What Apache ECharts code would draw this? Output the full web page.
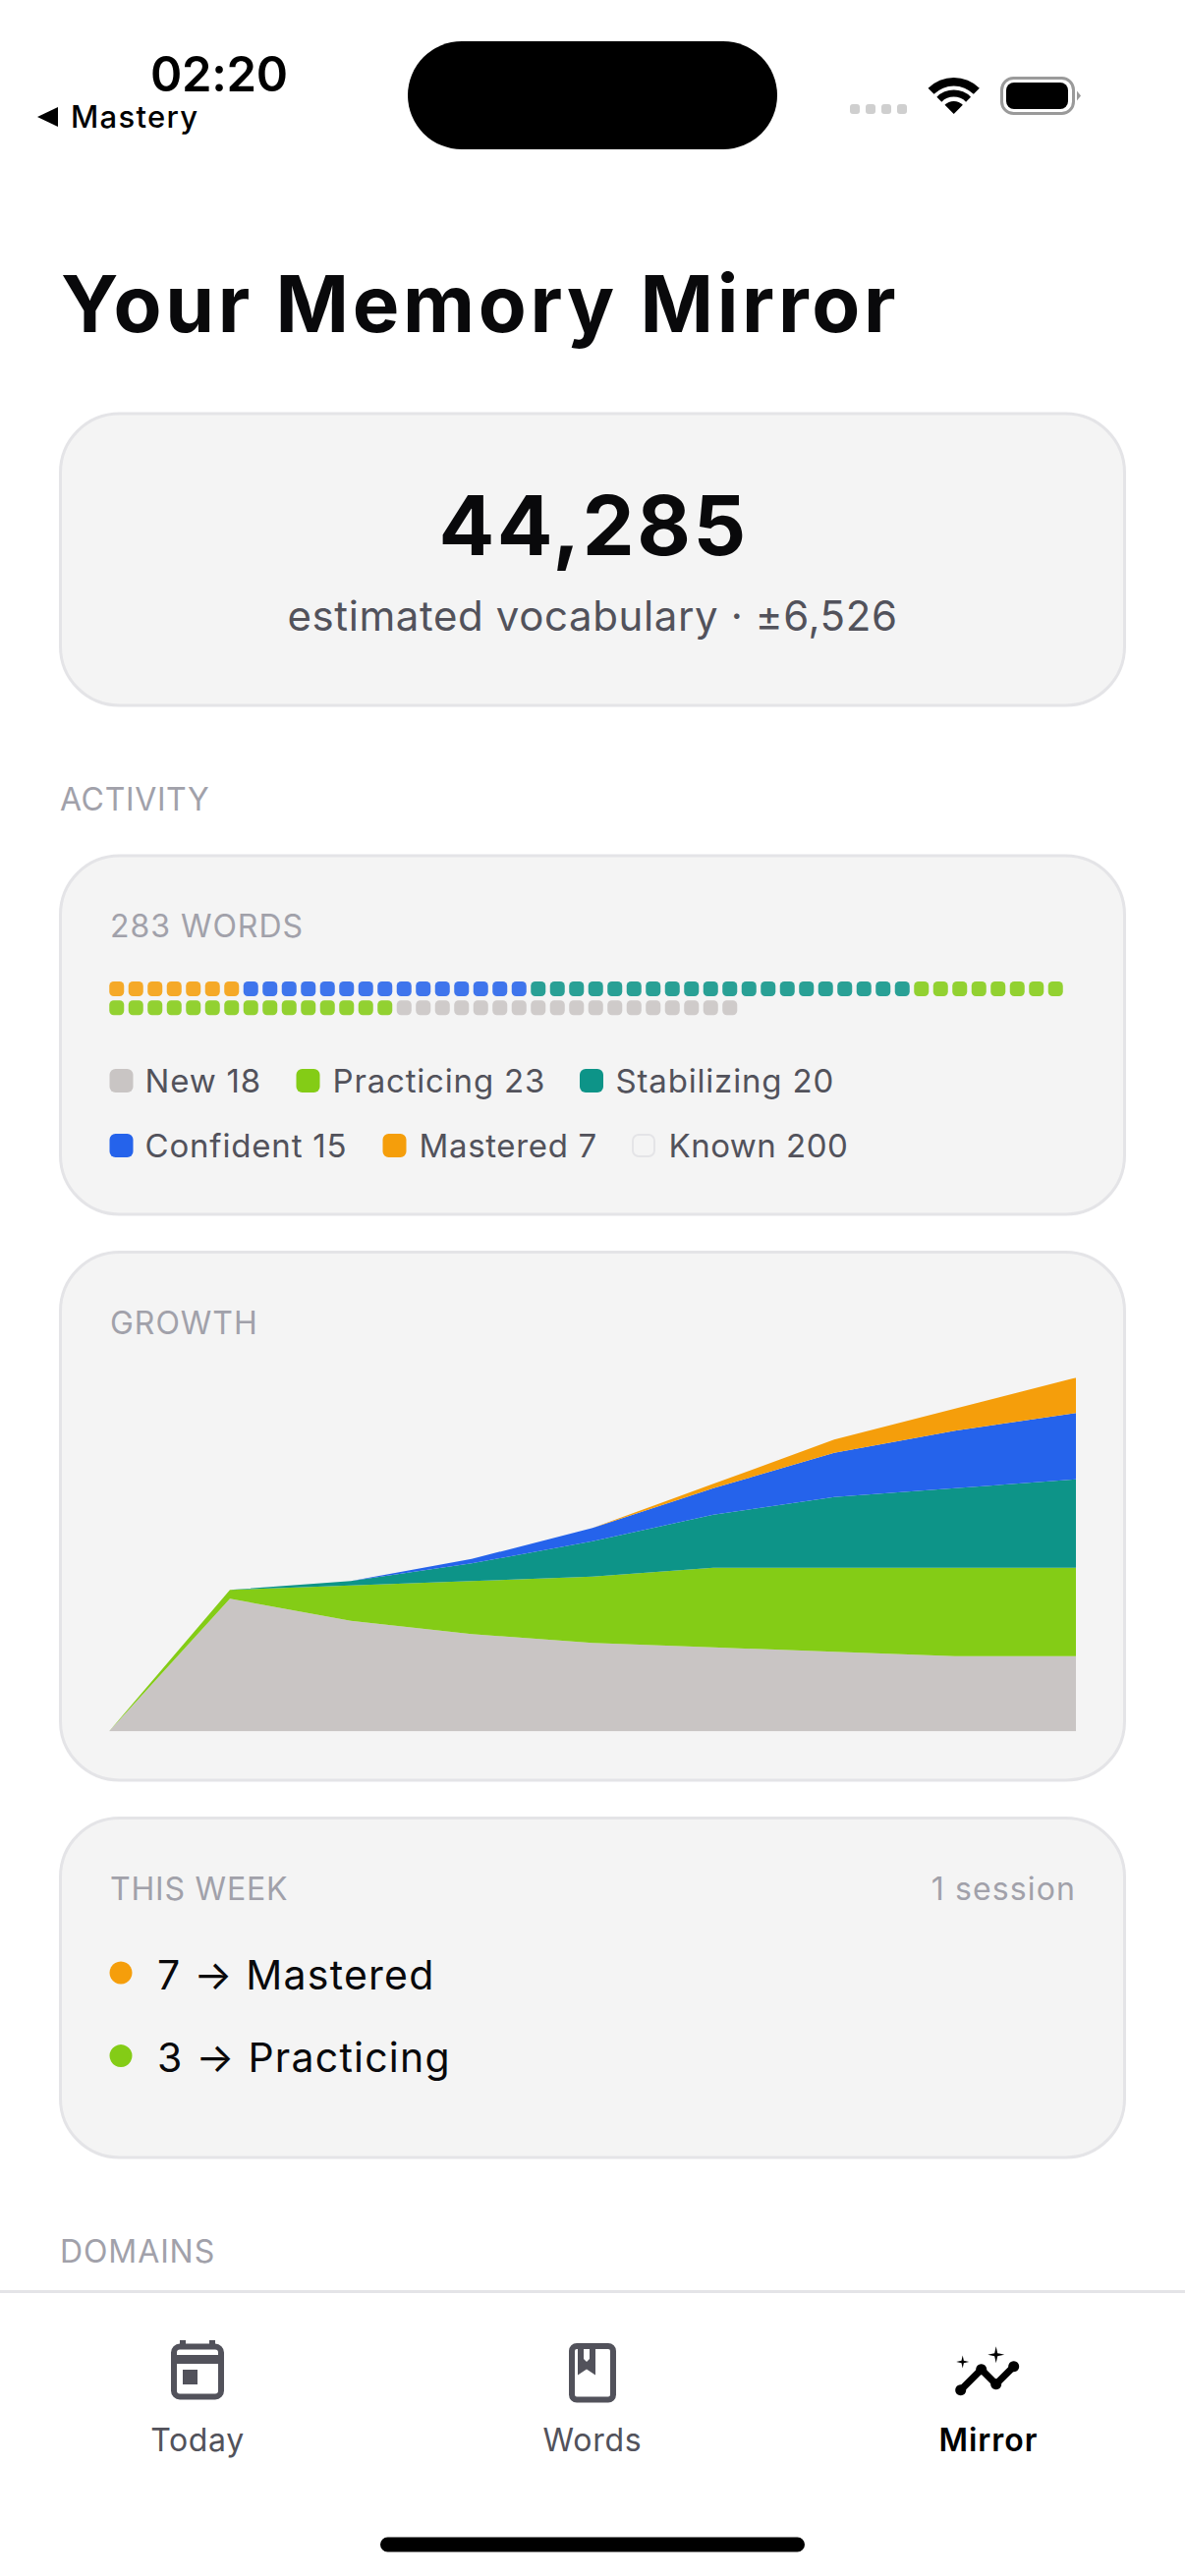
<!DOCTYPE html>
<html><head><meta charset="utf-8">
<style>html,body{margin:0;padding:0;background:#fff}#chart{width:1206px;height:2622px}</style>
<script src="https://cdn.jsdelivr.net/npm/echarts@6/dist/echarts.min.js"></script>
</head><body><div id="chart"></div>
<script>
// ---- data ----
const tierNames   = ['New','Practicing','Stabilizing','Confident','Mastered'];
const tierColors  = ['#c9c5c4','#84cc16','#0d9488','#2563eb','#f59e0b'];
const tierCounts  = [18,23,20,15,7];
const knownCount  = 200;
const stripOrder  = ['Mastered','Confident','Stabilizing','Practicing','New'];
const growthSteps = ['0','1','2','3','4','5','6','7','8'];
const growthNew         = [0,30,25,22,20,19,18,17,17];
const growthPracticing  = [0, 2, 8,12,15,18,19,20,20];
const growthStabilizing = [0, 0, 1, 4, 8,12,16,18,20];
const growthConfident   = [0, 0, 0, 1, 3, 6,10,13,15];
const growthMastered    = [0, 0, 0, 0, 0, 1, 3, 5, 8];
const growthSeries = [growthNew,growthPracticing,growthStabilizing,growthConfident,growthMastered];
const weekItems = [['7 → Mastered','#f59e0b'],['3 → Practicing','#84cc16']];
const navLabels = ['Today','Words','Mirror'];

// ---- helpers ----
const FONT='Inter';
const INK='#09090b', MUTED='#a1a1aa', SUB='#52525b', CARD='#f4f4f4', EDGE='#e4e4e7';
const tracking={};
function T(text,x,base,size,weight,fill,align,ls){
  tracking[text]=ls==null?.02:ls;
  return {type:'text',silent:true,style:{text,x,y:base-.364*size,fontSize:size,fontWeight:weight||400,fontFamily:FONT,fill:fill||INK,textAlign:align||'left',textVerticalAlign:'middle'}};
}
function R(x,y,w,h,r,fill,stroke,lw){
  return {type:'rect',silent:true,shape:{x,y,width:w,height:h,r},style:{fill:fill||'none',stroke:stroke||'none',lineWidth:lw||0}};
}
function Poly(points,fill){return {type:'polygon',silent:true,shape:{points},style:{fill}};}
function Card(y,b){return R(61.5,y,1083,b-y,60,CARD,EDGE,3);}
function Sparkle(cx,cy,r){const k=r*.18;return Poly([[cx,cy-r],[cx+k,cy-k],[cx+r,cy],[cx+k,cy+k],[cx,cy+r],[cx-k,cy+k],[cx-r,cy],[cx-k,cy-k]],'#000');}
function Band(cx,cy,r0,r1){
  return {type:'sector',silent:true,shape:{cx,cy,r0,r:r1,startAngle:-Math.PI*.75,endAngle:-Math.PI*.25,clockwise:true},style:{fill:'#000'}};}

const g=[];
// status bar
g.push(T('02:20',153,93,49,600,'#000','left',-.006));
g.push(T('Mastery',72,130,31,500,'#000','left',.042));
g.push(Poly([[38,119],[59,109],[59,129]],'#000'));
g.push(R(415,42,376,110,55,'#000'));
[865,881,897,913].forEach(x=>g.push(R(x,106,10,10,3,'#cfcfcf')));
g.push(Band(970.7,116,28.5,37),Band(970.7,116,17.5,24.5),Band(970.7,116,0,13));
g.push(R(1019.5,79.5,73,36,12,'none','#9a9a9a',3),R(1024,84,63,27,8,'#000'),Poly([[1096,92.5],[1100,97.5],[1096,102.5]],'#9a9a9a'));
// title + estimate
g.push(T('Your Memory Mirror',62,338,80,700,INK,'left',.046));
g.push(Card(421,718));
g.push(T('44,285',604,565,84,700,INK,'center',.03));
g.push(T('estimated vocabulary · ±6,526',603,642,42,400,SUB,'center',.0145));
// activity
g.push(T('ACTIVITY',61,825.5,32,400,MUTED,'left',.02));
g.push(Card(871,1236));
g.push(T('283 WORDS',112,954,32,400,MUTED,'left',.03));
const chipX=[111.5,301.5,590,111.5,389.5,643], txtX=[147.5,338.5,626.5,147.5,426.5,680.5], rowBase=[1112,1178];
const legendTrack=[.025,.025,.025,.025,.02,.015];
const legendEntries=tierNames.map((n,i)=>[n+' '+tierCounts[i],tierColors[i]]).concat([['Known '+knownCount,null]]);
legendEntries.forEach((e,i)=>{const b=rowBase[i<3?0:1];
  g.push(e[1]?R(chipX[i],b-24,24,24,6,e[1]):R(chipX[i]+1,b-23,22,22,6,'none','#e4e4e7',2));
  g.push(T(e[0],txtX[i],b,33,400,SUB,'left',legendTrack[i]));
});
// growth
g.push(Card(1274.5,1812));
g.push(T('GROWTH',112,1358,32,400,MUTED,'left',.03));
// this week
g.push(Card(1850.5,2196));
g.push(T('THIS WEEK',112,1934.5,32,400,MUTED,'left',.025));
g.push(T('1 session',1095,1934.5,32,400,MUTED,'right',.035));
[[123,2008,160,2024.5],[123,2092.6,160,2108.5]].forEach((p,i)=>{
  g.push({type:'circle',silent:true,shape:{cx:p[0],cy:p[1],r:11.5},style:{fill:weekItems[i][1]}});
  g.push(T(weekItems[i][0],p[2],p[3],41,400,INK,'left',.03));
});
g.push(T('DOMAINS',61,2303,32,400,MUTED,'left',.028));
// tab bar
g.push(R(0,2331,1206,291,0,'#fff'),R(0,2331,1206,3,0,'#e4e4e7'));
const I='#52525b';
g.push(R(183,2382,6,8,0,I),R(213,2382,6,8,0,I),R(177,2388.5,48,51,6,'none',I,6),R(177,2397,48,9,0,I),R(186,2412,15,15,0,I));
g.push(R(582,2388,42,54.5,5,'none',I,6));
g.push(Poly([[588,2391],[606,2391],[606,2417.5],[597,2411.5],[588,2417.5]],I),R(594,2391,6,10,0,'#fff'),Poly([[594,2401],[600,2401],[597,2404]],'#fff'));
const sparkPts=[[977.7,2432.7],[998.7,2411.7],[1013.7,2426.7],[1031.7,2408.7]];
g.push({type:'polyline',silent:true,shape:{points:sparkPts},style:{fill:'none',stroke:'#000',lineWidth:7}});
sparkPts.forEach(c=>g.push({type:'circle',silent:true,shape:{cx:c[0],cy:c[1],r:5.5},style:{fill:'#000'}}));
g.push(Sparkle(1013.7,2396.7,8.5),Sparkle(979.7,2404,6.5));
g.push(T(navLabels[0],201,2495.5,32,400,I,'center',.02),T(navLabels[1],603,2495.5,32,400,I,'center',.025),T(navLabels[2],1006,2495.5,32,600,'#000','center',.03));
g.push(R(387,2582.5,432,15,7.5,'#000'));

// ---- word strip: dots laid out by category axes (50 per row) ----
const STRIP_COLS=50, stripCols=Array.from({length:STRIP_COLS},(_,i)=>i), stripRows=[0,1];
const DOT='path://M4.5 0H10.5A4.5 4.5 0 0 1 15 4.5V10.5A4.5 4.5 0 0 1 10.5 15H4.5A4.5 4.5 0 0 1 0 10.5V4.5A4.5 4.5 0 0 1 4.5 0Z';
let cursor=0;
const stripSeries=stripOrder.map(name=>{
  const i=tierNames.indexOf(name), pts=[];
  for(let k=0;k<tierCounts[i];k++,cursor++) pts.push([cursor%STRIP_COLS,Math.floor(cursor/STRIP_COLS)]);
  return {type:'scatter',name:name+' words',xAxisIndex:0,yAxisIndex:0,data:pts,symbol:DOT,symbolSize:15,
    itemStyle:{color:tierColors[i],opacity:.88},z:5,silent:true};
});
// ---- growth: stacked areas ----
const areaSeries=growthSeries.map((d,i)=>({type:'line',name:tierNames[i],stack:'growth',xAxisIndex:1,yAxisIndex:1,data:d,
  showSymbol:false,symbol:'none',lineStyle:{width:0},itemStyle:{color:tierColors[i]},areaStyle:{color:tierColors[i],opacity:1},z:5,silent:true}));

const chart=echarts.init(document.getElementById('chart'),null,{renderer:'svg',width:1206,height:2622});
function applyTracking(){
  document.querySelectorAll('#chart svg text').forEach(el=>{
    const ls=tracking[el.textContent];
    if(ls!=null) el.style.letterSpacing=ls+'em';
  });
}
chart.on('finished',applyTracking);
chart.setOption({
  animation:false,backgroundColor:'#fff',tooltip:{show:false},
  graphic:{elements:g},
  grid:[{left:109,top:996.85,width:975,height:38.6},{left:111,top:1402.3,width:984,height:360}],
  xAxis:[{type:'category',gridIndex:0,data:stripCols,show:false},
         {type:'category',gridIndex:1,data:growthSteps,boundaryGap:false,show:false}],
  yAxis:[{type:'category',gridIndex:0,data:stripRows,inverse:true,show:false},
         {type:'value',gridIndex:1,min:0,max:80,show:false}],
  series:stripSeries.concat(areaSeries)
});
applyTracking();
</script></body></html>
